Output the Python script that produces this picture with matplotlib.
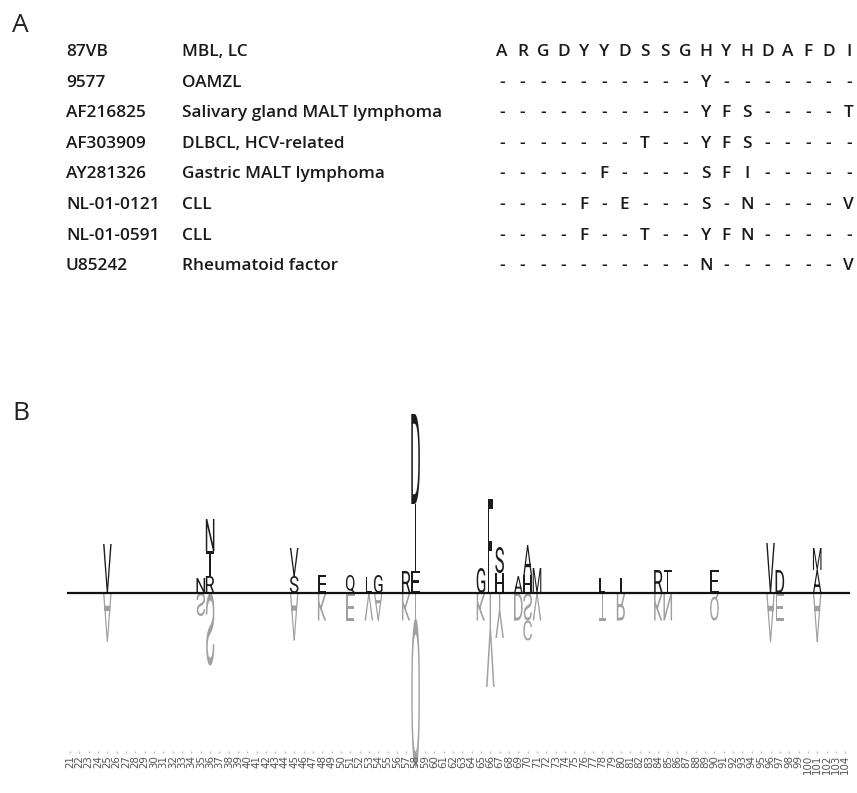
"""Panel A: CDR3 alignment table; panel B: two-sample sequence logo."""

import matplotlib

matplotlib.use("Agg")

import matplotlib.pyplot as plt
from matplotlib.font_manager import FontProperties
from matplotlib.patches import PathPatch
from matplotlib.textpath import TextPath
from matplotlib.transforms import Affine2D

# ---- panel A data -------------------------------------------------------
seq_ids = ["87VB", "9577", "AF216825", "AF303909", "AY281326",
           "NL-01-0121", "NL-01-0591", "U85242"]
seq_desc = ["MBL, LC", "OAMZL", "Salivary gland MALT lymphoma",
            "DLBCL, HCV-related", "Gastric MALT lymphoma", "CLL", "CLL",
            "Rheumatoid factor"]
seq_rows = [
    "ARGDYYDSSGHYHDAFDI",
    "----------Y-------",
    "----------YFS----T",
    "-------T--YFS-----",
    "-----F----SFI-----",
    "----F-E---S-N----V",
    "----F--T--YFN-----",
    "----------N------V",
]

# ---- panel B data -------------------------------------------------------
positions = list(range(21, 105))

# letters above the line (enriched), stacked from the baseline up
up_pos = [25, 35, 36, 36, 36, 45, 45, 48, 51, 53, 54, 57, 58, 58, 58,
          65, 66, 67, 67, 69, 70, 70, 71, 78, 80, 84, 85, 90, 96, 97,
          101, 101]
up_letters = ["V", "N", "R", "T", "N", "S", "V", "E", "Q", "L", "G", "R",
              "E", "I", "D", "G", "F", "H", "S", "A", "H", "A", "M", "L",
              "I", "R", "T", "E", "V", "D", "A", "M"]
up_heights = [0.98, 0.30, 0.34, 0.50, 0.64, 0.34, 0.56, 0.36, 0.36, 0.32,
              0.36, 0.44, 0.44, 1.34, 1.80, 0.50, 1.88, 0.40, 0.52, 0.34,
              0.36, 0.60, 0.50, 0.30, 0.30, 0.46, 0.46, 0.46, 1.00, 0.46,
              0.46, 0.44]

# letters below the line (depleted), stacked from the baseline down
down_pos = [25, 35, 36, 45, 48, 51, 53, 54, 57, 58, 58, 65, 66, 67, 69,
            70, 70, 71, 78, 80, 84, 85, 90, 96, 97, 101]
down_letters = ["A", "S", "S", "A", "K", "E", "V", "A", "K", "I", "O", "K",
                "Y", "Y", "D", "S", "C", "V", "T", "R", "K", "N", "Q", "A",
                "E", "A"]
down_heights = [0.98, 0.46, 1.45, 0.95, 0.55, 0.55, 0.55, 0.55, 0.55, 0.50,
                3.00, 0.55, 1.88, 0.90, 0.55, 0.55, 0.40, 0.55, 0.55, 0.55,
                0.55, 0.55, 0.55, 0.98, 0.55, 0.98]

UP_COLOR = "#1c1c1c"
DOWN_COLOR = "#a0a0a0"
LOGO_FONT = FontProperties(family="Roboto", weight="normal")
TABLE_FONT = dict(family="Open Sans", weight="semibold", fontsize=12.4,
                  color="#1a1a1a", va="center")
NARROW = {"I": 0.16, "L": 0.65, "F": 0.55, "T": 0.8}


def draw_letter(ax, ch, x, y0, height, color, flip=False):
    """Draw one glyph stretched into a box of the given height."""
    path = TextPath((0, 0), ch, size=1, prop=LOGO_FONT)
    ext = path.get_extents()
    width = NARROW.get(ch, 0.92)
    sy = -height / ext.height if flip else height / ext.height
    tr = (Affine2D()
          .translate(-ext.x0 - ext.width / 2, -ext.y0)
          .scale(width / ext.width, sy)
          .translate(x, y0))
    ax.add_patch(PathPatch(tr.transform_path(path), fc=color, ec="none", lw=0))


fig = plt.figure(figsize=(8.57, 7.93), dpi=100)

# ---- panel A (pixel coordinates) ----------------------------------------
ax_a = fig.add_axes([0, 0, 1, 1])
ax_a.set_xlim(0, 857)
ax_a.set_ylim(793, 0)
ax_a.axis("off")

ax_a.text(12, 25, "A", fontsize=19, family="Open Sans", weight="normal",
          va="center", ha="left", color="#222222")
ax_a.text(12, 413, "B", fontsize=19, family="Open Sans", weight="normal",
          va="center", ha="left", color="#222222")

for i, (sid, desc, row) in enumerate(zip(seq_ids, seq_desc, seq_rows)):
    y = 52 + i * 30.6
    ax_a.text(66, y, sid, ha="left", **TABLE_FONT)
    ax_a.text(182, y, desc, ha="left", **TABLE_FONT)
    for j, ch in enumerate(row):
        ax_a.text(502 + j * 20.4, y, ch, ha="center", **TABLE_FONT)

# ---- panel B (logo) -----------------------------------------------------
ax_b = fig.add_axes([0, 0, 1, 430 / 793])
ax_b.set_xlim(13.505, 105.26)
ax_b.set_ylim(-4.0, 4.6)
ax_b.axis("off")

stack_top = {}
for p, ch, h in zip(up_pos, up_letters, up_heights):
    y0 = stack_top.get(p, 0.0)
    draw_letter(ax_b, ch, p, y0, h, UP_COLOR)
    stack_top[p] = y0 + h

stack_bottom = {}
for p, ch, h in zip(down_pos, down_letters, down_heights):
    y0 = stack_bottom.get(p, 0.0)
    draw_letter(ax_b, ch, p, y0, h, DOWN_COLOR, flip=True)
    stack_bottom[p] = y0 - h

ax_b.hlines(0, positions[0] - 0.35, positions[-1] + 0.5, color="#111111",
            lw=1.6, zorder=5)

ax_b.plot(positions, [-3.18] * len(positions), ls="none", marker="|",
          ms=2, color="#bdbdbd")
for p in positions:
    ax_b.text(p, -3.24, str(p), rotation=90, fontsize=7.4, ha="center",
              va="top", color="#555555")

fig.savefig("out.png", dpi=100)
